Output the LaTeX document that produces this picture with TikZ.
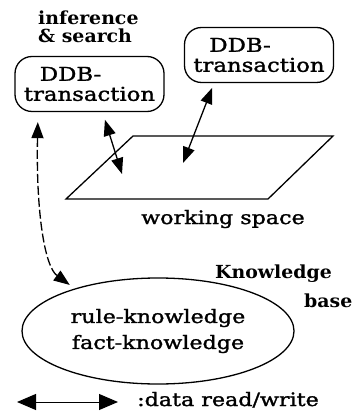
\documentclass[tikz,border=0pt]{standalone}
\usepackage{fontspec}
\setmainfont{DejaVu Serif}[FakeStretch=1.2,FakeBold=1.5]
\newfontfamily\knowfont{DejaVu Serif}[FakeStretch=1.05]
\usetikzlibrary{arrows.meta,shapes.geometric}

\begin{document}
\begin{tikzpicture}[x=1pt,y=-1pt,
    trans/.style={draw,line width=1.3pt,rounded corners=17pt,minimum width=149pt,minimum height=55pt,align=left,inner sep=0pt,font=\fontsize{19}{20}\selectfont},
    knowbase/.style={draw,ellipse,line width=1.3pt,minimum width=272pt,minimum height=106pt,align=center,inner sep=0pt,font=\fontsize{18.5}{26}\selectfont},
    lbl/.style={anchor=base west,inner sep=0pt,font=\fontsize{18.5}{20}\selectfont},
    blbl/.style={lbl,font=\knowfont\bfseries\fontsize{18}{18}\selectfont},
    rw/.style={{Triangle[length=16pt,width=12pt]}-{Triangle[length=16pt,width=12pt]},line width=1.3pt}]
  \useasboundingbox (0,0) rectangle (358,411);
  \node[trans] (ddbl) at (89.5,84) {\hspace*{16pt}DDB-\\transaction};
  \node[trans] (ddbr) at (259,55) {\hspace*{16pt}DDB-\\transaction};
  \node[knowbase] (kb) at (158,331) {rule-knowledge\\fact-knowledge};
  \draw[line width=1.3pt] (66,199) -- (268,199) -- (333,136) -- (133,136) -- cycle;
  \coordinate (wsl) at (122,174);
  \coordinate (wsr) at (183,163);
  \node[lbl] (ws) at (141,224) {working space};
  \node[blbl,align=left,anchor=north west] (inf) at (38,11) {inference\\\& search};
  \node[blbl] (know) at (215,278) {Knowledge};
  \node[blbl] (base) at (304,307) {base};
  \node[lbl] (leg) at (137,406) {:data read/write};
  \coordinate (legl) at (17,402);
  \coordinate (legr) at (118,402);
  \draw[rw,shorten <=8pt] ([xshift=13pt]ddbl.south) -- (wsl);
  \draw[rw,shorten <=5pt] ([xshift=-45pt]ddbr.south) -- (wsr);
  \draw[rw,dash pattern=on 9pt off 3pt,shorten <=10pt,shorten >=6pt] ([xshift=-51.5pt]ddbl.south) .. controls +(-2,100) and +(-30,-22) .. (kb.153);
  \draw[rw,line width=1pt,{Triangle[length=19pt,width=16pt]}-{Triangle[length=19pt,width=16pt]}] (legl) -- (legr);
\end{tikzpicture}
\end{document}
